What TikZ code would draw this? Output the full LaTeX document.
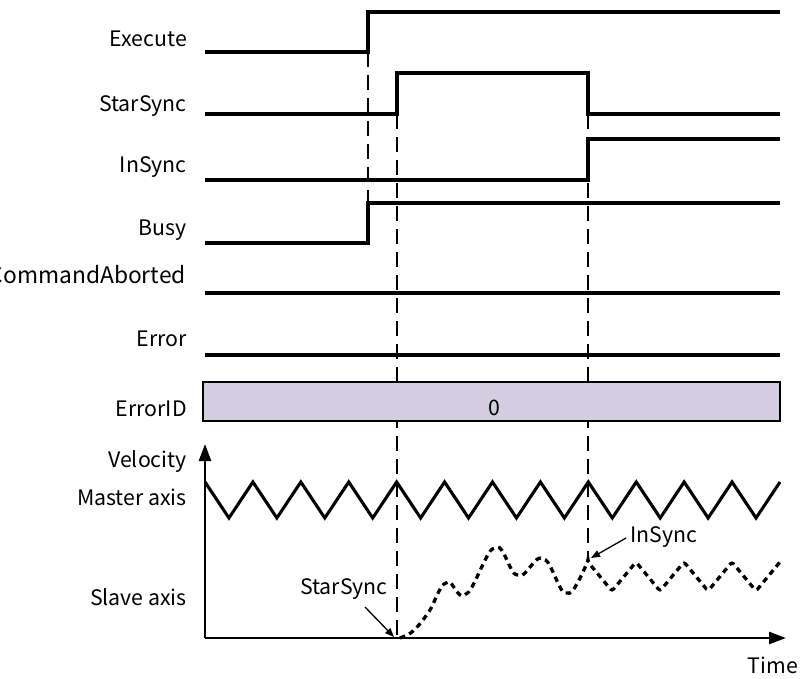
\documentclass[tikz,border=0pt]{standalone}
\usepackage{fontspec}
\setmainfont{Noto Sans CJK SC}
\usetikzlibrary{arrows.meta}
\definecolor{boxfill}{RGB}{211,206,223}
\begin{document}
\begin{tikzpicture}[x=1pt,y=-1pt,
  lbl/.style={anchor=base east, inner sep=0pt, font=\fontsize{21.3}{24}\selectfont},
  txt/.style={inner sep=0pt, font=\fontsize{21.3}{24}\selectfont},
  sig/.style={line width=3.1pt, line join=miter, line cap=butt},
  guide/.style={line width=1.6pt, dash pattern=on 15pt off 8pt},
  axisline/.style={line width=2.6pt, -{Triangle[length=17pt,width=12pt]}},
  slave/.style={line width=3.3pt, dash pattern=on 5.5pt off 4.5pt},
  note/.style={line width=1.3pt, -{Triangle[length=9pt,width=7pt]}}
]
\useasboundingbox (0,0) rectangle (804,679);

% guides
\draw[guide] (368,52) -- (368,203);
\draw[guide] (397,114) -- (397,638);
\draw[guide] (588,114) -- (588,560);

% labels
\node[lbl] (lExec) at (187,47) {Execute};
\node[lbl] (lStar) at (187,112) {StarSync};
\node[lbl] (lIn) at (187,173) {InSync};
\node[lbl] (lBusy) at (187,236) {Busy};
\node[lbl, font=\fontsize{22.8}{26}\selectfont] (lCmd) at (186,284) {CommandAborted};
\node[lbl] (lErr) at (187,347) {Error};
\node[lbl] (lErrID) at (187,417) {ErrorID};
\node[lbl] (lVel) at (187,467) {Velocity};
\node[lbl] (lMaster) at (187,505) {Master axis};
\node[lbl] (lSlave) at (187,605) {Slave axis};
\node[lbl] (lTime) at (798,673) {Time};

% signals
\draw[sig] (205,52) -- (368,52) -- (368,12) -- (780,12);
\draw[sig] (205,114) -- (397,114) -- (397,73) -- (588,73) -- (588,114) -- (780,114);
\draw[sig] (205,180) -- (588,180) -- (588,139) -- (780,139);
\draw[sig] (205,243) -- (368,243) -- (368,203) -- (780,203);
\draw[sig] (205,293) -- (780,293);
\draw[sig] (205,355) -- (780,355);

% ErrorID box
\draw[line width=2.8pt, fill=boxfill] (203,382) rectangle (780,421);
\node[txt, anchor=base] (zero) at (494,415) {0};

% axes
\coordinate (origin) at (205,638);
\coordinate (vtop) at (205,444);
\coordinate (tend) at (786,638);
\draw[axisline] (origin) -- (vtop);
\draw[axisline] (origin) -- (tend);

% master axis zigzag
\draw[sig] (205,482) \foreach \i in {0,...,11} { -- ({205+47.917*(\i+0.5)},518) -- ({205+47.917*(\i+1)},482) };

% slave axis
\draw[slave, rounded corners=2.5pt] plot[smooth, tension=0.55] coordinates {(400,638) (413,631) (428,613) (446,583) (466,594) (495,548) (518,575) (543,559) (567,593) (588,562)}
  -- (612,591) -- (636,562) -- (660,591) -- (684,562) -- (708,591) -- (732,562) -- (756,591) -- (780,562);

% annotations
\node[txt, anchor=base east] (aStar) at (388,594) {StarSync};
\node[txt, anchor=base west] (aIn) at (630,542) {InSync};
\coordinate (pStar) at (394,637);
\coordinate (pIn) at (591,558);
\draw[note] (365,607) -- (pStar);
\draw[note] (626,538) -- (pIn);
\end{tikzpicture}
\end{document}
